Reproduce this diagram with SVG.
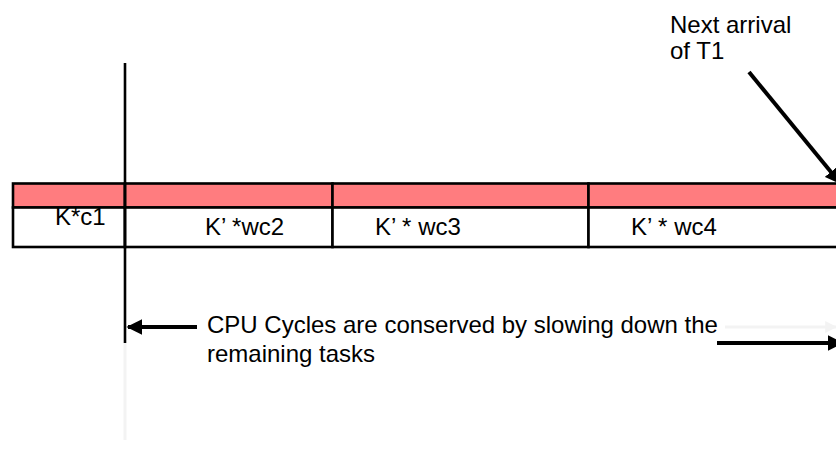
<svg xmlns="http://www.w3.org/2000/svg" width="836" height="449" viewBox="0 0 836 449">
<style>
text{font-family:"Liberation Sans",Arial,sans-serif;font-size:24px;fill:#000}
.cell{fill:#fff;stroke:#000;stroke-width:2.6}
.band{fill:#ff7c7f;stroke:#000;stroke-width:2.6}
.arr{stroke:#000;stroke-width:4;fill:none}
.faint{stroke:#f3f3f3;stroke-width:3;fill:none}
</style>
<defs>
<marker id="ah" viewBox="0 0 10 10" refX="9" refY="5" markerWidth="4" markerHeight="4.2" orient="auto" markerUnits="strokeWidth">
<path d="M0,0 L10,5 L0,10 Z" fill="#000"/>
</marker>
<marker id="ahf" viewBox="0 0 10 10" refX="9" refY="5" markerWidth="4" markerHeight="4.2" orient="auto" markerUnits="strokeWidth">
<path d="M0,0 L10,5 L0,10 Z" fill="#f3f3f3"/>
</marker>
</defs>
<g id="cell1">
<rect class="band" x="13" y="183.5" width="112" height="24"/>
<rect class="cell" x="13" y="207.5" width="112" height="39.5"/>
<text x="55" y="225">K*c1</text>
</g>
<g id="cell2">
<rect class="band" x="125" y="183.5" width="207.5" height="24"/>
<rect class="cell" x="125" y="207.5" width="207.5" height="39.5"/>
<text x="205" y="235">K’ *wc2</text>
</g>
<g id="cell3">
<rect class="band" x="332.5" y="183.5" width="256" height="24"/>
<rect class="cell" x="332.5" y="207.5" width="256" height="39.5"/>
<text x="375" y="235">K’ * wc3</text>
</g>
<g id="cell4">
<rect class="band" x="588.5" y="183.5" width="260" height="24"/>
<rect class="cell" x="588.5" y="207.5" width="260" height="39.5"/>
<text x="631" y="235">K’ * wc4</text>
</g>
<g id="label-next">
<text x="670" y="33">Next arrival</text>
<text x="670" y="59">of T1</text>
</g>
<g id="label-cpu">
<text x="207" y="333">CPU Cycles are conserved by slowing down the</text>
<text x="207" y="362">remaining tasks</text>
</g>
<g id="connectors">
<line x1="125" y1="63" x2="125" y2="343" stroke="#000" stroke-width="2.6"/>
<line class="faint" x1="125" y1="343" x2="125" y2="440" stroke-width="2"/>
<line class="arr" x1="197" y1="327" x2="128" y2="327" marker-end="url(#ah)"/>
<line class="faint" x1="725" y1="327" x2="836" y2="327" stroke-width="4" marker-end="url(#ahf)"/>
<line class="arr" x1="717" y1="343" x2="842" y2="343" marker-end="url(#ah)"/>
<line class="arr" x1="749" y1="72" x2="840" y2="183" marker-end="url(#ah)"/>
</g>
</svg>
